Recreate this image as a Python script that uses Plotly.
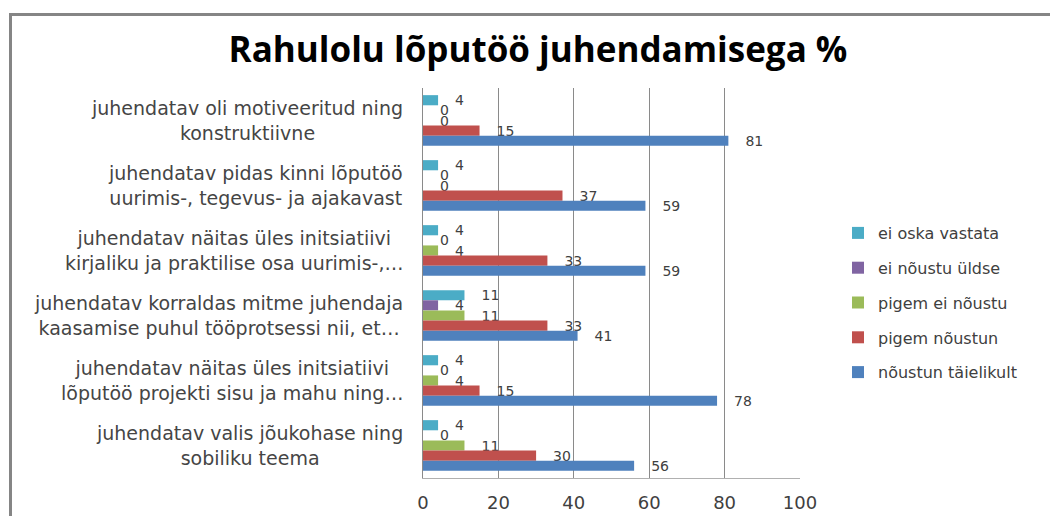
import plotly.graph_objects as go

categories = [
    "juhendatav oli motiveeritud ning<br>konstruktiivne",
    "juhendatav pidas kinni lõputöö<br>uurimis-, tegevus- ja ajakavast",
    "juhendatav näitas üles initsiatiivi<br>kirjaliku ja praktilise osa uurimis-,…",
    "juhendatav korraldas mitme juhendaja<br>kaasamise puhul tööprotsessi nii, et…",
    "juhendatav näitas üles initsiatiivi<br>lõputöö projekti sisu ja mahu ning…",
    "juhendatav valis jõukohase ning<br>sobiliku teema",
]

series_names = ["ei oska vastata", "ei nõustu üldse", "pigem ei nõustu", "pigem nõustun", "nõustun täielikult"]
ei_oska_vastata = [4, 4, 4, 11, 4, 4]
ei_noustu_uldse = [0, 0, 0, 4, 0, 0]
pigem_ei_noustu = [0, 0, 4, 11, 4, 11]
pigem_noustun = [15, 37, 33, 33, 15, 30]
noustun_taielikult = [81, 59, 59, 41, 78, 56]
series_values = [ei_oska_vastata, ei_noustu_uldse, pigem_ei_noustu, pigem_noustun, noustun_taielikult]
colors = ["#4BACC6", "#8064A2", "#9BBB59", "#C0504D", "#4F81BD"]

x_ticks = [0, 20, 40, 60, 80, 100]

font_family = "DejaVu Sans, sans-serif"
title_family = "Open Sans, sans-serif"

fig = go.Figure()
for i, (name, vals, col) in enumerate(zip(series_names, series_values, colors)):
    fig.add_trace(go.Bar(
        y=categories, x=vals, name=name, orientation="h",
        marker=dict(color=col, line=dict(width=0)),
        text=vals, texttemplate="\u2003%{x}", textposition="outside",
        constraintext="none",
        textfont=dict(size=14, color="#404040", family=font_family),
        cliponaxis=False, legendgroup=f"g{i}",
    ))

# page has an 8px body margin, so figure coordinates = page coordinates - 8
W, H = 1050, 508
L, R, T, B = 415, 258, 80, 38
ph = H - T - B
pw = W - L - R

# category labels as centred, multi-line annotations placed on the category axis
for cat in categories:
    fig.add_annotation(
        xref="paper", yref="y", x=-18 / pw, y=cat, text=cat,
        xanchor="right", yanchor="middle", align="center", showarrow=False,
        font=dict(size=19, color="#454545", family=font_family),
    )

fig.update_layout(
    width=W, height=H,
    margin=dict(l=L, r=R, t=T, b=B, autoexpand=False),
    barmode="group", bargap=0.22, bargroupgap=0,
    plot_bgcolor="white", paper_bgcolor="white",
    font=dict(family=font_family, size=15, color="#404040"),
    title=dict(text="<b>Rahulolu lõputöö juhendamisega %</b>",
               x=530 / W, xanchor="center", y=1 - 42 / H, yanchor="middle",
               font=dict(size=35, color="#000000", family=title_family)),
    legend=dict(x=(830 - L) / pw, xanchor="left", y=(H - B - 208) / ph, yanchor="top",
                font=dict(size=16, color="#404040", family=font_family), tracegroupgap=11,
                itemwidth=30, bgcolor="rgba(0,0,0,0)"),
    xaxis=dict(range=[0, 100], tickvals=x_ticks, showgrid=True, gridcolor="#8a8a8a", gridwidth=1,
               showline=True, linecolor="#b0b0b0", linewidth=1, zeroline=False,
               ticks="", ticklabelstandoff=8,
               tickfont=dict(size=18, color="#404040", family=font_family)),
    yaxis=dict(autorange="reversed", showline=True, linecolor="#8a8a8a", linewidth=1,
               ticks="", showticklabels=False),
    shapes=[dict(type="rect", xref="paper", yref="paper",
                 x0=(2.5 - L) / pw, x1=(1100 - L) / pw,
                 y0=(H - B - 560) / ph, y1=(H - B - 6.5) / ph,
                 line=dict(color="#858585", width=3), fillcolor="rgba(0,0,0,0)")],
)

fig.write_html("out.html")
